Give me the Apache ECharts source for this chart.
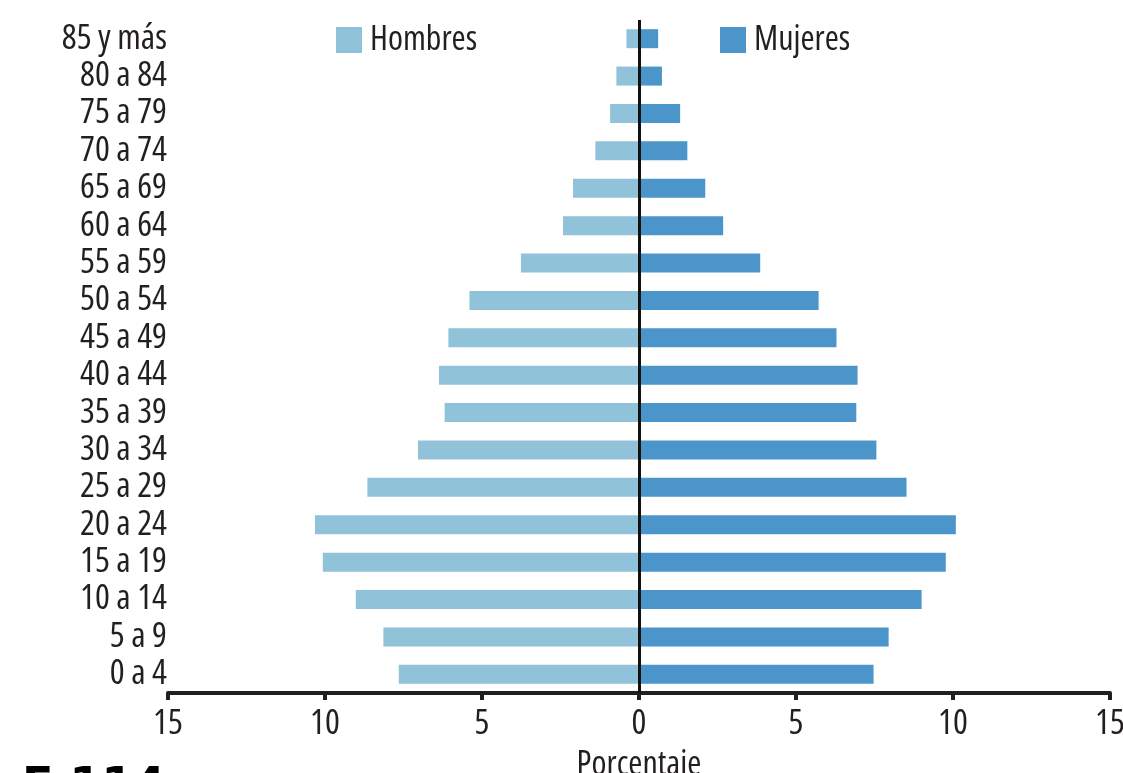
<!DOCTYPE html>
<html lang="es">
<head>
  <meta charset="UTF-8">
  <title>Pirámide de población</title>
  <script src="https://cdn.jsdelivr.net/npm/echarts@6/dist/echarts.min.js"></script>
  <style>
    html, body { margin: 0; padding: 0; background: #fff; }
    #chart { width: 1123px; height: 773px; }
  </style>
</head>
<body>
  <div id="chart"></div>
  <script>
    // grupos de edad, de abajo hacia arriba
    var edades = ['0 a 4', '5 a 9', '10 a 14', '15 a 19', '20 a 24', '25 a 29', '30 a 34',
      '35 a 39', '40 a 44', '45 a 49', '50 a 54', '55 a 59', '60 a 64', '65 a 69',
      '70 a 74', '75 a 79', '80 a 84', '85 y más'];
    // porcentajes
    var hombres = [7.65, 8.14, 9.02, 10.07, 10.32, 8.65, 7.04, 6.19, 6.37, 6.07, 5.40,
      3.76, 2.42, 2.10, 1.39, 0.92, 0.72, 0.40];
    var mujeres = [7.47, 7.95, 9.0, 9.77, 10.09, 8.52, 7.56, 6.92, 6.96, 6.29, 5.72,
      3.86, 2.68, 2.11, 1.54, 1.31, 0.73, 0.61];

    // Open Sans estrecha (font-stretch se cuela por fontWeight)
    var fuente = "'Open Sans', sans-serif";
    var estrecha = 'condensed';
    var tinta = '#231f20';
    var colorH = '#90c2da';
    var colorM = '#4b95ca';

    var chart = echarts.init(document.getElementById('chart'));

    var option = {
      backgroundColor: '#fff',
      animation: false,
      grid: { left: 168, right: 13, top: 20, bottom: 80, containLabel: false, outerBoundsMode: 'none' },
      legend: [{
        data: ['Hombres'],
        left: 336, top: 23, padding: 0,
        itemWidth: 26, itemHeight: 26,
        icon: 'rect',
        textStyle: { fontFamily: fuente, fontWeight: estrecha, fontSize: 34, color: tinta, padding: [0, 0, 0, 3] }
      }, {
        data: ['Mujeres'],
        left: 720, top: 23, padding: 0,
        itemWidth: 26, itemHeight: 26,
        icon: 'rect',
        textStyle: { fontFamily: fuente, fontWeight: estrecha, fontSize: 34, color: tinta, padding: [0, 0, 0, 3] }
      }],
      xAxis: {
        type: 'value',
        min: -15, max: 15, interval: 5,
        name: 'Porcentaje',
        nameLocation: 'middle',
        nameGap: 55,
        nameTextStyle: { fontFamily: fuente, fontWeight: estrecha, fontSize: 34, color: tinta },
        axisLine: { show: true, onZero: false, lineStyle: { color: tinta, width: 4 } },
        axisTick: { show: true, length: 7, lineStyle: { color: tinta, width: 4 } },
        axisLabel: {
          fontFamily: fuente, fontWeight: estrecha, fontSize: 35, color: tinta, margin: 14,
          formatter: function (v) { return Math.abs(v); }
        },
        splitLine: { show: false }
      },
      yAxis: {
        type: 'category',
        data: edades,
        axisLine: { show: false, onZero: false },
        axisTick: { show: false },
        axisLabel: { interval: 0, fontFamily: fuente, fontWeight: estrecha, fontSize: 35, color: tinta, margin: 1 },
        splitLine: { show: false }
      },
      series: [{
        name: 'Hombres',
        type: 'bar',
        barWidth: 19,
        barGap: '-100%',
        itemStyle: { color: colorH },
        data: hombres.map(function (v) { return -v; })
      }, {
        name: 'Mujeres',
        type: 'bar',
        barWidth: 19,
        itemStyle: { color: colorM },
        data: mujeres,
        markLine: {
          silent: true,
          symbol: 'none',
          label: { show: false },
          lineStyle: { color: '#111', width: 3, type: 'solid' },
          data: [{ xAxis: 0 }]
        }
      }],
      graphic: [{
        type: 'text',
        left: 22, top: 765,
        style: { text: 'E 114', font: 'bold 46px "DejaVu Sans", sans-serif', fill: '#000' }
      }]
    };

    chart.setOption(option);
  </script>
</body>
</html>
